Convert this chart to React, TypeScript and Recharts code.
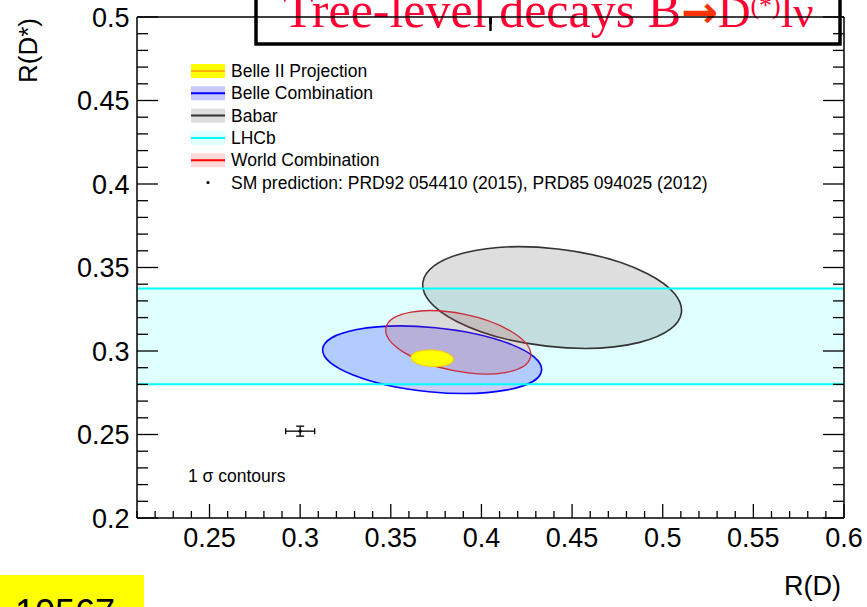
import * as Recharts from 'recharts';
import {
  ComposedChart,
  XAxis,
  YAxis,
  Scatter,
  ErrorBar,
  ReferenceArea,
  ReferenceLine,
  Legend,
  Customized,
} from 'recharts';

const R: any = Recharts;

// axes
const X_DOMAIN = [0.21, 0.6];
const Y_DOMAIN = [0.2, 0.5];
const X_TICKS = [
  0.21, 0.22, 0.23, 0.24, 0.25, 0.26, 0.27, 0.28, 0.29, 0.3, 0.31, 0.32, 0.33, 0.34, 0.35, 0.36, 0.37, 0.38, 0.39, 0.4,
  0.41, 0.42, 0.43, 0.44, 0.45, 0.46, 0.47, 0.48, 0.49, 0.5, 0.51, 0.52, 0.53, 0.54, 0.55, 0.56, 0.57, 0.58, 0.59, 0.6,
];
const X_MAJOR = [0.25, 0.3, 0.35, 0.4, 0.45, 0.5, 0.55, 0.6];
const Y_TICKS = [
  0.2, 0.21, 0.22, 0.23, 0.24, 0.25, 0.26, 0.27, 0.28, 0.29, 0.3, 0.31, 0.32, 0.33, 0.34, 0.35, 0.36, 0.37, 0.38, 0.39,
  0.4, 0.41, 0.42, 0.43, 0.44, 0.45, 0.46, 0.47, 0.48, 0.49, 0.5,
];
const Y_MAJOR = [0.2, 0.25, 0.3, 0.35, 0.4, 0.45, 0.5];

// 1 sigma contours: R(D), R(D*), errors, correlation
const CONTOUR_NAMES = ['Babar', 'Belle Combination', 'World Combination', 'Belle II Projection'];
const CONTOUR_RD = [0.439, 0.3728, 0.3872, 0.3728];
const CONTOUR_RDS = [0.332, 0.2948, 0.3052, 0.2956];
const CONTOUR_SIG_RD = [0.0714, 0.0604, 0.04, 0.0117];
const CONTOUR_SIG_RDS = [0.0304, 0.0202, 0.019, 0.005];
const CONTOUR_RHO = [-0.25, -0.29, -0.39, -0.12];

// LHCb R(D*) band
const LHCB_BAND = [0.2801, 0.3375];

// SM prediction
const SM_POINT = [{ rd: 0.3, rds: 0.252, erd: 0.008, erds: 0.003 }];

const LEGEND_ITEMS = [
  'Belle II Projection',
  'Belle Combination',
  'Babar',
  'LHCb',
  'World Combination',
  'SM prediction: PRD92 054410 (2015), PRD85 094025 (2012)',
];

const STYLE: Record<string, { fill: string; stroke: string; sw: number; swatch: string }> = {
  Babar: { fill: 'rgba(0,0,0,0.13)', stroke: '#333333', sw: 1.6, swatch: '#dedede' },
  'Belle Combination': { fill: 'rgba(0,0,255,0.2)', stroke: '#0000ff', sw: 1.6, swatch: '#c8c8ff' },
  'World Combination': { fill: 'rgba(200,70,70,0.2)', stroke: '#cc2a3a', sw: 1.3, swatch: '#ffd8d8' },
  'Belle II Projection': { fill: '#ffff00', stroke: '#ffcc00', sw: 1, swatch: '#ffff00' },
  LHCb: { fill: '#e0ffff', stroke: '#00ffff', sw: 2, swatch: '#e0ffff' },
};
const LEGEND_LINE: Record<string, string> = {
  'Belle II Projection': '#ffb400',
  'Belle Combination': '#0000ff',
  Babar: '#333333',
  LHCb: '#00ffff',
  'World Combination': '#ff0000',
};

const SANS = "'Liberation Sans', Arial, Helvetica, sans-serif";
const SERIF = "'Liberation Serif', 'Times New Roman', serif";

const HAS_SCALE = typeof R.useXAxisScale === 'function' && typeof R.useYAxisScale === 'function';
const HAS_PLOT = typeof R.usePlotArea === 'function';

function usePixelMap() {
  const xs = HAS_SCALE ? R.useXAxisScale('b') : undefined;
  const ys = HAS_SCALE ? R.useYAxisScale('l') : undefined;
  const plot = HAS_PLOT ? R.usePlotArea() : undefined;
  if (typeof xs === 'function' && typeof ys === 'function') {
    const x0 = xs(X_DOMAIN[0]);
    const x1 = xs(X_DOMAIN[1]);
    const y0 = ys(Y_DOMAIN[0]);
    const y1 = ys(Y_DOMAIN[1]);
    if ([x0, x1, y0, y1].every((v) => Number.isFinite(v))) {
      return { x0, y0, kx: (x1 - x0) / (X_DOMAIN[1] - X_DOMAIN[0]), ky: (y1 - y0) / (Y_DOMAIN[1] - Y_DOMAIN[0]) };
    }
  }
  if (plot && plot.width) {
    return {
      x0: plot.x,
      y0: plot.y + plot.height,
      kx: plot.width / (X_DOMAIN[1] - X_DOMAIN[0]),
      ky: -plot.height / (Y_DOMAIN[1] - Y_DOMAIN[0]),
    };
  }
  return null;
}

function Contours() {
  const m = usePixelMap();
  if (!m) return null;
  return (
    <g>
      {CONTOUR_NAMES.map((name, i) => {
        const cx = m.x0 + (CONTOUR_RD[i] - X_DOMAIN[0]) * m.kx;
        const cy = m.y0 + (CONTOUR_RDS[i] - Y_DOMAIN[0]) * m.ky;
        const a = (m.kx * CONTOUR_SIG_RD[i]) ** 2;
        const c = (m.ky * CONTOUR_SIG_RDS[i]) ** 2;
        const b = m.kx * m.ky * CONTOUR_RHO[i] * CONTOUR_SIG_RD[i] * CONTOUR_SIG_RDS[i];
        const mid = (a + c) / 2;
        const d = Math.sqrt(((a - c) / 2) ** 2 + b * b);
        const rx = Math.sqrt(mid + d);
        const ry = Math.sqrt(Math.max(mid - d, 0));
        const ang = (0.5 * Math.atan2(2 * b, a - c) * 180) / Math.PI;
        const s = STYLE[name];
        return (
          <ellipse
            key={name}
            cx={cx}
            cy={cy}
            rx={rx}
            ry={ry}
            transform={`rotate(${ang} ${cx} ${cy})`}
            fill={s.fill}
            stroke={s.stroke}
            strokeWidth={s.sw}
          />
        );
      })}
    </g>
  );
}

function Decorations() {
  return (
    <g>
      <rect x={256} y={-10} width={584} height={54} fill="#fff" stroke="#000" strokeWidth={3.5} />
      <text x={283} y={27} fontFamily={SERIF} fontSize={50} fill="#ff0033">
        Tree-level decays B
        <tspan fill="#ff3300" fontFamily="'DejaVu Sans', sans-serif" fontWeight="bold" fontSize={44}>
          →
        </tspan>
        <tspan fontSize={45}>D</tspan>
        <tspan fontSize={26} dy={-13}>
          (*)
        </tspan>
        <tspan fontSize={45} dy={13}>
          lν
        </tspan>
      </text>
      <text x={188} y={482} fontFamily={SANS} fontSize={17.5} fill="#000">
        1 σ contours
      </text>
      <text
        x={37}
        y={18}
        transform="rotate(-90 37 18)"
        textAnchor="end"
        fontFamily={SANS}
        fontSize={26}
        fill="#000"
      >
        R(D*)
      </text>
      <text x={841} y={595} textAnchor="end" fontFamily={SANS} fontSize={27} fill="#000">
        R(D)
      </text>
      <rect x={0} y={575} width={144} height={40} fill="#ffff00" />
      <text x={15} y={625} fontFamily={SANS} fontSize={36} fill="#000">
        10567
      </text>
    </g>
  );
}

function LegendBox() {
  return (
    <svg width={540} height={140} style={{ display: 'block' }}>
      {LEGEND_ITEMS.map((label, i) => {
        const cy = 9 + i * 22.3;
        const isSM = i === LEGEND_ITEMS.length - 1;
        return (
          <g key={label}>
            {isSM ? (
              <circle cx={19} cy={cy} r={1.6} fill="#000" />
            ) : (
              <g>
                <rect x={2} y={cy - 7} width={34} height={14} fill={STYLE[label].swatch} />
                <line x1={2} x2={36} y1={cy} y2={cy} stroke={LEGEND_LINE[label]} strokeWidth={2} />
              </g>
            )}
            <text x={42} y={cy + 6} fontFamily={SANS} fontSize={17.5} fill="#000">
              {label}
            </text>
          </g>
        );
      })}
    </svg>
  );
}

function BottomTick(props: any) {
  const { x, y, payload } = props;
  const v = payload.value;
  const major = X_MAJOR.includes(v);
  return (
    <g>
      <line x1={x} x2={x} y1={y} y2={y - (major ? 14 : 7)} stroke="#000" strokeWidth={1.3} />
      {major && (
        <text x={x} y={y + 29} textAnchor="middle" fontFamily={SANS} fontSize={27} fill="#000">
          {String(v)}
        </text>
      )}
    </g>
  );
}

function TopTick(props: any) {
  const { x, y, payload } = props;
  const major = X_MAJOR.includes(payload.value);
  return <line x1={x} x2={x} y1={y} y2={y + (major ? 14 : 7)} stroke="#000" strokeWidth={1.3} />;
}

function LeftTick(props: any) {
  const { x, y, payload } = props;
  const v = payload.value;
  const major = Y_MAJOR.includes(v);
  return (
    <g>
      <line x1={x} x2={x + (major ? 21 : 11)} y1={y} y2={y} stroke="#000" strokeWidth={1.3} />
      {major && (
        <text x={x - 7.5} y={y + 9.5} textAnchor="end" fontFamily={SANS} fontSize={27} fill="#000">
          {String(v)}
        </text>
      )}
    </g>
  );
}

function RightTick(props: any) {
  const { x, y, payload } = props;
  const major = Y_MAJOR.includes(payload.value);
  return <line x1={x} x2={x - (major ? 21 : 11)} y1={y} y2={y} stroke="#000" strokeWidth={1.3} />;
}

const AXIS_LINE = { stroke: '#000', strokeWidth: 1.5 };

export default function App() {
  return (
    <div
      style={{
        position: 'absolute',
        left: 0,
        top: 0,
        width: 867,
        height: 607,
        overflow: 'hidden',
        background: '#fff',
      }}
    >
      <ComposedChart
        width={867}
        height={607}
        data={SM_POINT}
        margin={{ top: 0, right: 0, bottom: 0, left: 0 }}
        style={{ fontFamily: SANS }}
      >
        <XAxis
          xAxisId="b"
          type="number"
          dataKey="rd"
          domain={X_DOMAIN}
          ticks={X_TICKS}
          interval={0}
          allowDataOverflow
          height={89}
          tickSize={0}
          tickMargin={0}
          tickLine={false}
          axisLine={AXIS_LINE}
          tick={<BottomTick />}
        />
        <XAxis
          xAxisId="t"
          orientation="top"
          type="number"
          domain={X_DOMAIN}
          ticks={X_TICKS}
          interval={0}
          allowDataOverflow
          height={17}
          tickSize={0}
          tickMargin={0}
          tickLine={false}
          axisLine={AXIS_LINE}
          tick={<TopTick />}
        />
        <YAxis
          yAxisId="l"
          type="number"
          dataKey="rds"
          domain={Y_DOMAIN}
          ticks={Y_TICKS}
          interval={0}
          allowDataOverflow
          width={137}
          tickSize={0}
          tickMargin={0}
          tickLine={false}
          axisLine={AXIS_LINE}
          tick={<LeftTick />}
        />
        <YAxis
          yAxisId="r"
          orientation="right"
          type="number"
          domain={Y_DOMAIN}
          ticks={Y_TICKS}
          interval={0}
          allowDataOverflow
          width={23}
          tickSize={0}
          tickMargin={0}
          tickLine={false}
          axisLine={AXIS_LINE}
          tick={<RightTick />}
        />
        <ReferenceArea
          xAxisId="b"
          yAxisId="l"
          y1={LHCB_BAND[0]}
          y2={LHCB_BAND[1]}
          fill="#e0ffff"
          fillOpacity={1}
          stroke="none"
          {...({ zIndex: -10 } as any)}
        />
        <Customized component={Contours} />
        <ReferenceLine xAxisId="b" yAxisId="l" y={LHCB_BAND[0]} stroke="#00ffff" strokeWidth={2} />
        <ReferenceLine xAxisId="b" yAxisId="l" y={LHCB_BAND[1]} stroke="#00ffff" strokeWidth={2} />
        <Scatter
          xAxisId="b"
          yAxisId="l"
          dataKey="rds"
          isAnimationActive={false}
          shape={(p: any) => <circle cx={p.cx} cy={p.cy} r={1.6} fill="#000" />}
        >
          <ErrorBar dataKey="erd" direction="x" width={3} stroke="#000" strokeWidth={1.3} isAnimationActive={false} />
          <ErrorBar dataKey="erds" direction="y" width={4} stroke="#000" strokeWidth={1.3} isAnimationActive={false} />
        </Scatter>
        <Customized component={Decorations} />
        <Legend
          layout="vertical"
          align="center"
          verticalAlign="middle"
          wrapperStyle={{ position: 'absolute', left: 189, top: 62, width: 540, height: 140 }}
          content={() => <LegendBox />}
        />
      </ComposedChart>
    </div>
  );
}
